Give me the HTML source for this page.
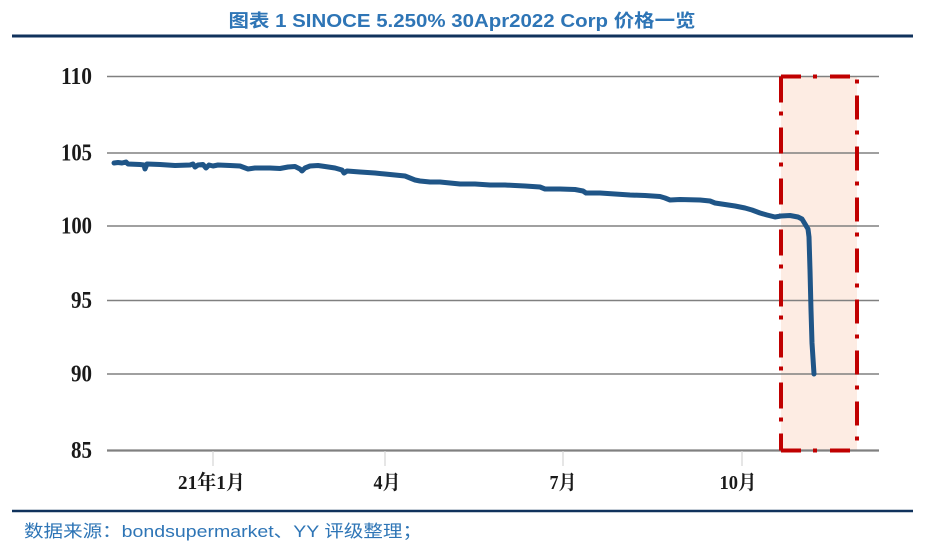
<!DOCTYPE html>
<html>
<head>
<meta charset="utf-8">
<style>
html,body{margin:0;padding:0;background:#fff;}
svg{display:block;}
</style>
</head>
<body>
<svg width="937" height="549" viewBox="0 0 937 549" xmlns="http://www.w3.org/2000/svg">
  <rect x="0" y="0" width="937" height="549" fill="#ffffff"/>
  <!-- Title -->
  <text x="462" y="27" text-anchor="middle" font-family="'Liberation Sans','Noto Sans CJK SC',sans-serif" font-weight="bold" font-size="18" fill="#2e75b6" textLength="467" lengthAdjust="spacingAndGlyphs">图表 1 SINOCE 5.250% 30Apr2022 Corp 价格一览</text>
  <line x1="12" y1="36" x2="913" y2="36" stroke="#10325c" stroke-width="3"/>

  <!-- highlight fill -->
  <rect x="781" y="76.5" width="76" height="374" fill="#fdece3"/>

  <!-- gridlines -->
  <g stroke="#808080" stroke-width="1.6">
    <line x1="107" y1="76.5" x2="879" y2="76.5"/>
    <line x1="107" y1="153" x2="879" y2="153"/>
    <line x1="107" y1="226" x2="879" y2="226"/>
    <line x1="107" y1="300.5" x2="879" y2="300.5"/>
    <line x1="107" y1="374" x2="879" y2="374"/>
    <line x1="107" y1="450.5" x2="879" y2="450.5" stroke-width="2.2"/>
  </g>
  <!-- ticks -->
  <g stroke="#d4d4d4" stroke-width="1.2">
    <line x1="213" y1="451" x2="213" y2="466"/>
    <line x1="385" y1="451" x2="385" y2="466"/>
    <line x1="563" y1="451" x2="563" y2="466"/>
    <line x1="742" y1="451" x2="742" y2="466"/>
  </g>

  <!-- y labels -->
  <g font-family="'Liberation Serif',serif" font-weight="bold" font-size="24" fill="#1a1a1a" text-anchor="end">
    <text x="92" y="84" textLength="31" lengthAdjust="spacingAndGlyphs">110</text>
    <text x="92" y="160.5" textLength="31" lengthAdjust="spacingAndGlyphs">105</text>
    <text x="92" y="233.5" textLength="31" lengthAdjust="spacingAndGlyphs">100</text>
    <text x="92" y="308" textLength="21" lengthAdjust="spacingAndGlyphs">95</text>
    <text x="92" y="381.5" textLength="21" lengthAdjust="spacingAndGlyphs">90</text>
    <text x="92" y="458" textLength="21" lengthAdjust="spacingAndGlyphs">85</text>
  </g>

  <!-- x labels -->
  <g font-family="'Liberation Serif','Noto Serif CJK SC',serif" font-weight="bold" font-size="20" fill="#1a1a1a" text-anchor="middle">
    <text x="211.5" y="489" textLength="67" lengthAdjust="spacingAndGlyphs">21年1月</text>
    <text x="387" y="489" textLength="27" lengthAdjust="spacingAndGlyphs">4月</text>
    <text x="563" y="489" textLength="27" lengthAdjust="spacingAndGlyphs">7月</text>
    <text x="738" y="489" textLength="37" lengthAdjust="spacingAndGlyphs">10月</text>
  </g>

  <!-- red dash-dot box -->
  <g stroke="#c00000" stroke-width="4" fill="none">
    <line x1="781" y1="76.5" x2="857" y2="76.5" stroke-dasharray="20 12 4 13"/>
    <line x1="781" y1="450.5" x2="857" y2="450.5" stroke-dasharray="20 12 4 13"/>
    <line x1="781" y1="76.5" x2="781" y2="450.5" stroke-dasharray="26 9 4 12"/>
    <line x1="857" y1="76.5" x2="857" y2="450.5" stroke-dasharray="4 12 24 11" stroke-dashoffset="-3"/>
  </g>

  <!-- data line -->
  <path fill="none" stroke="#1f5587" stroke-width="5" stroke-linejoin="round" stroke-linecap="round"
    d="M114,163 L118,162.5 L122,163 L126,162 L128,164 L140,164.5 L144,165 L145,169 L147,164 L160,164.5 L175,165.5 L190,165 L193,164 L195,167 L198,165 L203,164.5 L206,168 L209,165 L213,166 L218,165 L230,165.5 L240,166 L248,169 L255,168 L270,168 L280,168.5 L288,167 L295,166.5 L300,169 L302,171 L305,168 L310,166 L318,165.5 L325,166.5 L335,168 L342,170 L344,173 L347,171 L360,172 L375,173 L385,174 L395,175 L405,176 L410,178 L415,180 L420,181 L430,182 L440,182 L450,183 L460,184 L475,184 L490,185 L505,185 L515,185.5 L525,186 L540,187 L545,189 L560,189 L575,189.5 L583,191 L586,193 L600,193 L615,194 L630,195 L645,195.5 L660,196.5 L665,198 L670,200 L680,199.5 L700,200 L710,201 L715,203 L725,204.5 L735,206 L745,208 L752,210 L760,213 L767,215 L775,217 L781,216 L790,215.5 L798,217 L802,219 L805,224 L808,229 L809,237 L810,270 L811,310 L812,343 L814,374"/>

  <!-- footer -->
  <line x1="12" y1="511" x2="913" y2="511" stroke="#10325c" stroke-width="2.5"/>
  <text x="24" y="537" font-family="'Liberation Sans','Noto Sans CJK SC',sans-serif" font-size="17" fill="#2e75b6" textLength="398" lengthAdjust="spacingAndGlyphs">数据来源：bondsupermarket、YY 评级整理；</text>
</svg>
</body>
</html>
